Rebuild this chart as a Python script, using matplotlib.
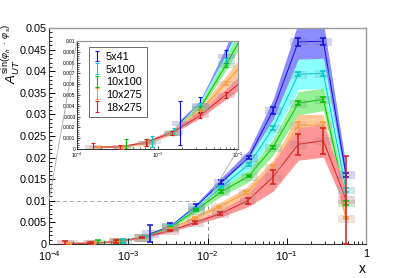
import numpy as np
import matplotlib
matplotlib.use('Agg')
import matplotlib.pyplot as plt
from matplotlib.patches import Rectangle, ConnectionPatch
from matplotlib.ticker import MultipleLocator, LogLocator, FixedLocator, FuncFormatter, NullFormatter

plt.rcParams['font.family'] = ['Liberation Sans', 'DejaVu Sans']
plt.rcParams['mathtext.fontset'] = 'custom'
plt.rcParams['mathtext.rm'] = 'Liberation Sans'
plt.rcParams['mathtext.it'] = 'Liberation Sans:italic'
plt.rcParams['mathtext.bf'] = 'Liberation Sans:bold'

# ---------------- data ----------------
labels = ['5x41', '5x100', '10x100', '10x275', '18x275']

x_5x41 = [1.9e-3, 3.4e-3, 7.1e-3, 1.5e-2, 3.3e-2, 6.7e-2, 1.4e-1, 2.9e-1, 5.6e-1]
y_5x41 = [0.0024, 0.0041, 0.0086, 0.0143, 0.0200, 0.0309, 0.0468, 0.0469, 0.0160]
e_5x41 = [0.0020, 0.0007, 0.0006, 0.0005, 0.0004, 0.0008, 0.0009, 0.0009, 0.0005]
b_5x41 = [0.0002, 0.0003, 0.0007, 0.0011, 0.0016, 0.0025, 0.0045, 0.0045, 0.0020]

x_5x100 = [8.6e-4, 1.6e-3, 3.4e-3, 7.1e-3, 1.5e-2, 3.3e-2, 6.7e-2, 1.4e-1, 2.9e-1, 5.6e-1]
y_5x100 = [0.0007, 0.0016, 0.0040, 0.0081, 0.0132, 0.0184, 0.0268, 0.0393, 0.0395, 0.0125]
e_5x100 = [0.0005, 0.0003, 0.0003, 0.0003, 0.0003, 0.0003, 0.0004, 0.0005, 0.0006, 0.0004]
b_5x100 = [0.00005, 0.0001, 0.0003, 0.0006, 0.0010, 0.0015, 0.0021, 0.0035, 0.0035, 0.0015]

x_10x100 = [4.1e-4, 7.5e-4, 1.5e-3, 3.4e-3, 7.1e-3, 1.5e-2, 3.3e-2, 6.7e-2, 1.4e-1, 2.9e-1, 5.6e-1]
y_10x100 = [0.0002, 0.0006, 0.0015, 0.0038, 0.0078, 0.0121, 0.0157, 0.0224, 0.0326, 0.0335, 0.0095]
e_10x100 = [0.0007, 0.0003, 0.0002, 0.0002, 0.0002, 0.0003, 0.0003, 0.0004, 0.0005, 0.0006, 0.0004]
b_10x100 = [0.00003, 0.0001, 0.0002, 0.0003, 0.0006, 0.0010, 0.0013, 0.0019, 0.0027, 0.0026, 0.0015]

x_10x275 = [1.8e-4, 3.6e-4, 7.3e-4, 1.55e-3, 3.4e-3, 7.0e-3, 1.4e-2, 3.1e-2, 6.7e-2, 1.4e-1, 2.9e-1, 5.6e-1]
y_10x275 = [0.0001, 0.0002, 0.0005, 0.0015, 0.0035, 0.0061, 0.0086, 0.0119, 0.0177, 0.0275, 0.0275, 0.0060]
e_10x275 = [0.0002, 0.0002, 0.0002, 0.0002, 0.0002, 0.0002, 0.0003, 0.0004, 0.0005, 0.0007, 0.0007, 0.0003]
b_10x275 = [0.00003, 0.00005, 0.0001, 0.0002, 0.0003, 0.0005, 0.0009, 0.0012, 0.0018, 0.0025, 0.0025, 0.0010]

x_18x275 = [1.6e-4, 3.4e-4, 7.1e-4, 1.5e-3, 3.4e-3, 7.0e-3, 1.45e-2, 3.2e-2, 6.7e-2, 1.4e-1, 2.9e-1, 5.6e-1]
y_18x275 = [0.0002, 0.0002, 0.0006, 0.0015, 0.0031, 0.0050, 0.0070, 0.0100, 0.0155, 0.0231, 0.0239, 0.0102]
e_18x275 = [0.0004, 0.0002, 0.0003, 0.0002, 0.0002, 0.0003, 0.0004, 0.0007, 0.0017, 0.0024, 0.0030, 0.0102]
b_18x275 = [0.00005, 0.00005, 0.0001, 0.0002, 0.0003, 0.0005, 0.0008, 0.0014, 0.0033, 0.0037, 0.0038, 0.0022]

series_x = [x_5x41, x_5x100, x_10x100, x_10x275, x_18x275]
series_y = [y_5x41, y_5x100, y_10x100, y_10x275, y_18x275]
series_e = [e_5x41, e_5x100, e_10x100, e_10x275, e_18x275]
series_b = [b_5x41, b_5x100, b_10x100, b_10x275, b_18x275]

line_colors = ['#1010e0', '#00c8c8', '#00c000', '#ff9933', '#d42020']
band_colors = ['#8c8cff', '#8cffff', '#96f096', '#ffc896', '#ff9696']

# ---------------- figure ----------------
W, H = 407, 278
fig = plt.figure(figsize=(W / 100, H / 100), dpi=100)
ax = fig.add_axes([49 / W, 1 - 244 / H, (366 - 49) / W, (244 - 28) / H])
axin = fig.add_axes([77 / W, 1 - 149 / H, (238 - 77) / W, (149 - 41) / H])


def draw(a, box_half_h, elw, caps):
    handles = []
    for i in range(5):
        x = np.array(series_x[i])
        y = np.array(series_y[i])
        b = np.array(series_b[i])
        a.fill_between(x, y - b, y + b, color=band_colors[i], lw=0, zorder=1 + 0.1 * i)
        a.plot(x, y, color=line_colors[i], lw=0.7, zorder=1.05 + 0.1 * i)
    for i in range(5):
        c = np.array(matplotlib.colors.to_rgb(line_colors[i]))
        face = 0.65 * np.array([0.68, 0.68, 0.72]) + 0.35 * c
        for xv, yv in zip(series_x[i], series_y[i]):
            r = Rectangle((xv * 10 ** -0.1, yv - box_half_h), xv * (10 ** 0.1 - 10 ** -0.1),
                          2 * box_half_h, facecolor=face, edgecolor=face, alpha=0.3,
                          lw=0.5, zorder=3)
            a.add_patch(r)
    for i in range(5):
        h = a.errorbar(series_x[i], series_y[i], yerr=series_e[i], fmt='none',
                       ecolor=line_colors[i], elinewidth=elw, capsize=caps,
                       capthick=elw, zorder=4, label=labels[i])
        handles.append(h)
    return handles


draw(ax, 0.0008, 1.1, 2.0)
handles = draw(axin, 0.00018, 0.8, 1.2)

# main axes styling
ax.set_xscale('log')
ax.set_xlim(1e-4, 1)
ax.set_ylim(0, 0.05)
ax.yaxis.set_major_locator(MultipleLocator(0.005))
ax.yaxis.set_minor_locator(MultipleLocator(0.001))
ax.yaxis.set_major_formatter(FuncFormatter(lambda v, p: '%g' % round(v, 4)))
ax.xaxis.set_major_locator(FixedLocator([1e-4, 1e-3, 1e-2, 1e-1, 1]))
ax.xaxis.set_minor_locator(LogLocator(base=10, subs=np.arange(2, 10), numticks=20))
ax.xaxis.set_minor_formatter(NullFormatter())


def xfmt(v, p):
    if abs(v - 1) < 1e-9:
        return '1'
    return r'$10^{%d}$' % int(round(np.log10(v)))


ax.xaxis.set_major_formatter(FuncFormatter(xfmt))
ax.tick_params(which='both', direction='in', top=False, right=False, labelsize=7.8, colors='black')
ax.tick_params(which='major', length=4, width=0.7)
ax.tick_params(which='minor', length=2.2, width=0.6)
ax.tick_params(axis='y', pad=1.5)
ax.tick_params(axis='x', pad=3.5)
for s in ['left', 'bottom']:
    ax.spines[s].set_color('#333333')
    ax.spines[s].set_linewidth(0.8)
for s in ['top', 'right']:
    ax.spines[s].set_color('#999999')
    ax.spines[s].set_linewidth(1.0)

# zoom indicator
ax.plot([1e-4, 1e-2], [0.01, 0.01], ls=(0, (4, 3)), color='#aaaaaa', lw=0.7, zorder=0.5)
ax.plot([1e-2, 1e-2], [0, 0.01], ls=(0, (4, 3)), color='#888888', lw=0.7, zorder=0.5)

# inset styling
axin.set_xscale('log')
axin.set_xlim(1e-4, 1e-2)
axin.set_ylim(0, 0.01)
axin.yaxis.set_major_locator(MultipleLocator(0.001))
axin.yaxis.set_minor_locator(MultipleLocator(0.0002))
axin.yaxis.set_major_formatter(FuncFormatter(lambda v, p: '%g' % round(v, 5)))
axin.xaxis.set_major_locator(FixedLocator([1e-4, 1e-3, 1e-2]))
axin.xaxis.set_minor_locator(LogLocator(base=10, subs=np.arange(2, 10), numticks=20))
axin.xaxis.set_minor_formatter(NullFormatter())
axin.xaxis.set_major_formatter(FuncFormatter(xfmt))
axin.tick_params(which='both', direction='in', top=False, right=False, labelsize=3.5)
axin.tick_params(which='major', length=2.5, width=0.5)
axin.tick_params(which='minor', length=1.3, width=0.4)
axin.tick_params(axis='y', pad=1)
axin.tick_params(axis='x', pad=1.5)
for s in ['left', 'bottom']:
    axin.spines[s].set_color('#333333')
    axin.spines[s].set_linewidth(0.7)
for s in ['top', 'right']:
    axin.spines[s].set_color('#999999')
    axin.spines[s].set_linewidth(0.9)

leg = axin.legend(handles=handles, labels=labels, loc='upper left',
                  bbox_to_anchor=(0.075, 0.944), borderaxespad=0, fontsize=7.8,
                  frameon=True, fancybox=False, handlelength=0.6, handletextpad=0.5,
                  labelspacing=0.22, borderpad=0.45, handleheight=0.9)
leg.get_frame().set_edgecolor('#444444')
leg.get_frame().set_linewidth(0.7)

# connector lines
for xyA, xyB in [((1e-4, 0.01), (0, 1)), ((1e-2, 0.01), (1, 0))]:
    cp = ConnectionPatch(xyA=xyA, coordsA=ax.transData, xyB=xyB, coordsB=axin.transAxes,
                         color='#aaaaaa', lw=0.6, zorder=0.5)
    fig.add_artist(cp)

# axis titles
fig.text(10.8 / W, 1 - 84 / H, r'$A_{UT}^{\mathrm{sin}(\varphi_h\ \cdot\ \varphi_s)}$', rotation=90,
         ha='center', va='bottom', fontsize=9.5)
fig.text(366 / W, 1 - 269 / H, 'x', ha='right', va='center', fontsize=10)

fig.savefig('out.png', dpi=100)
